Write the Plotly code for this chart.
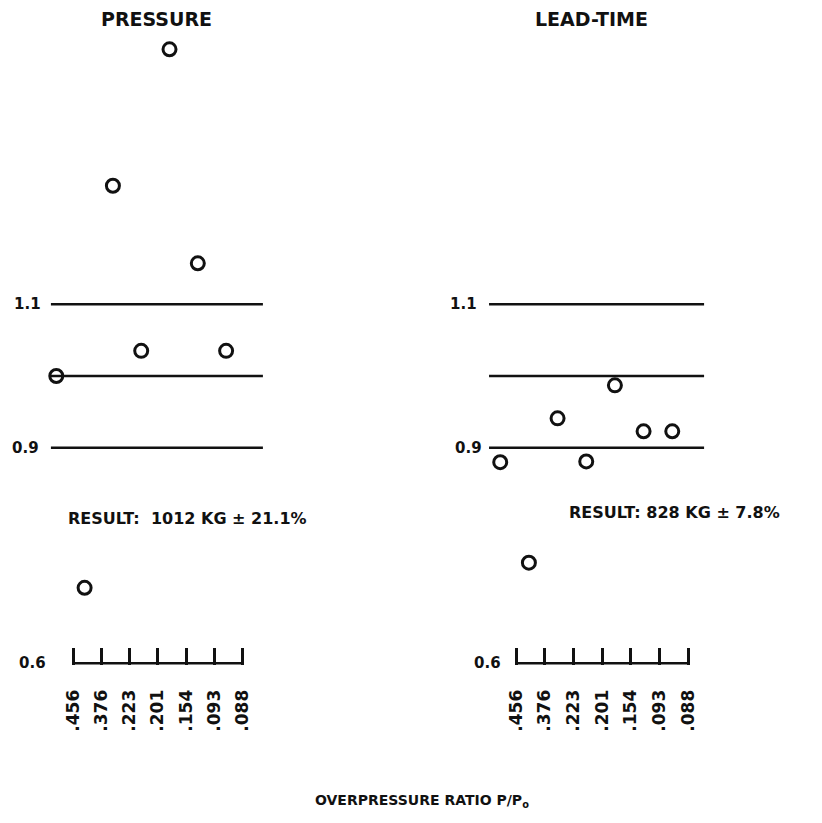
import plotly.graph_objects as go

# ---- data ----
categories = [".456", ".376", ".223", ".201", ".154", ".093", ".088"]
pressure_ratio = [1.0, 0.705, 1.265, 1.035, 1.455, 1.157, 1.035]
leadtime_ratio = [0.880, 0.740, 0.941, 0.881, 0.987, 0.923, 0.923]
reference_levels = [1.1, 1.0, 0.9]
y_label_values = [1.1, 0.9, 0.6]
y_label_text = ["1.1", "0.9", "0.6"]
panel_titles = ["PRESSURE", "LEAD-TIME"]
results = ["RESULT:  1012 KG \u00b1 21.1%", "RESULT: 828 KG \u00b1 7.8%"]
x_title = "OVERPRESSURE RATIO P/P<sub>o</sub>"

W, H = 822, 823
FONT = "DejaVu Sans"
BLACK = "#111111"

n = len(categories)
idx = list(range(n))
y_bottom = 0.6

y_range = [0.597, 1.5056]
y_domain = [0.20128, 0.99392]

panels = [
    dict(values=pressure_ratio, xr=[-1.06, 7.42], xd=[35 / W, 275 / W],
         off=-0.59, line_span=[-0.78, 6.71], lab_shift=[-8, -10, -25]),
    dict(values=leadtime_ratio, xr=[-1.674, 7.743], xd=[460 / W, 730 / W],
         off=-0.55, line_span=[-0.94, 6.56], lab_shift=[-10, -5, -13]),
]

fig = go.Figure()
annotations = []

for k, p in enumerate(panels):
    xa = "x" if k == 0 else "x2"
    ya = "y" if k == 0 else "y2"
    # reference lines
    for lvl in reference_levels:
        fig.add_trace(go.Scatter(
            x=p["line_span"], y=[lvl, lvl], mode="lines",
            line=dict(color=BLACK, width=2.6), xaxis=xa, yaxis=ya,
            hoverinfo="skip", showlegend=False))
    # bottom baseline of the category axis
    fig.add_trace(go.Scatter(
        x=[idx[0], idx[-1]], y=[y_bottom, y_bottom], mode="lines",
        line=dict(color=BLACK, width=2.6), xaxis=xa, yaxis=ya,
        hoverinfo="skip", showlegend=False))
    # data points
    fig.add_trace(go.Scatter(
        x=[i + p["off"] for i in idx], y=p["values"], mode="markers",
        marker=dict(symbol="circle-open", size=13, color=BLACK,
                    line=dict(width=3, color=BLACK)),
        xaxis=xa, yaxis=ya, cliponaxis=False, showlegend=False))
    # y labels
    for v, t, s in zip(y_label_values, y_label_text, p["lab_shift"]):
        xpos = idx[0] if v == y_bottom else p["line_span"][0]
        annotations.append(dict(
            x=xpos, y=v, xref=xa, yref=ya, text=t, showarrow=False,
            xanchor="right", yanchor="middle", xshift=s,
            font=dict(family=FONT, size=15, color=BLACK, weight="bold")))

axis_common = dict(showgrid=False, zeroline=False, showline=False)
tick_common = dict(tickvals=idx, ticktext=categories, tickangle=-90,
                   ticks="inside", ticklen=17, tickwidth=2.6, tickcolor=BLACK,
                   ticklabelstandoff=20,
                   tickfont=dict(family=FONT, size=17, color=BLACK, weight="bold"))
fig.update_layout(
    xaxis=dict(domain=panels[0]["xd"], range=panels[0]["xr"], anchor="y",
               **tick_common, **axis_common),
    yaxis=dict(domain=y_domain, range=y_range, anchor="x",
               showticklabels=False, ticks="", **axis_common),
    xaxis2=dict(domain=panels[1]["xd"], range=panels[1]["xr"], anchor="y2",
                **tick_common, **axis_common),
    yaxis2=dict(domain=y_domain, range=y_range, anchor="x2",
                showticklabels=False, ticks="", **axis_common),
)

title_font = dict(family=FONT, size=19, color=BLACK, weight="bold")
result_font = dict(family=FONT, size=16, color=BLACK, weight="bold")
xtitle_font = dict(family=FONT, size=14, color=BLACK, weight="bold")
annotations += [
    dict(x=148 / W, y=1 - 11 / H, xref="paper", yref="paper", text=panel_titles[0],
         showarrow=False, xanchor="center", yanchor="middle", font=title_font),
    dict(x=583 / W, y=1 - 11 / H, xref="paper", yref="paper", text=panel_titles[1],
         showarrow=False, xanchor="center", yanchor="middle", font=title_font),
    dict(x=58 / W, y=1 - 510 / H, xref="paper", yref="paper", text=results[0],
         showarrow=False, xanchor="left", yanchor="middle", font=result_font),
    dict(x=559 / W, y=1 - 505 / H, xref="paper", yref="paper", text=results[1],
         showarrow=False, xanchor="left", yanchor="middle", font=result_font),
    dict(x=414 / W, y=1 - 793 / H, xref="paper", yref="paper", text=x_title,
         showarrow=False, xanchor="center", yanchor="middle", font=xtitle_font),
]

fig.update_layout(
    width=W, height=H, autosize=False,
    margin=dict(l=0, r=0, t=0, b=0),
    paper_bgcolor="white", plot_bgcolor="white",
    showlegend=False, annotations=annotations,
)

fig.write_html("out.html")
